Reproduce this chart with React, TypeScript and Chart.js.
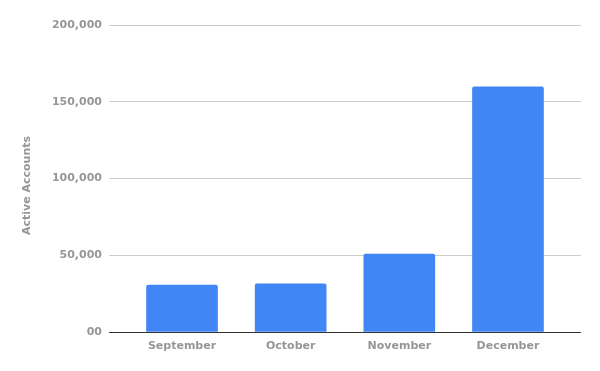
import React, { useEffect, useRef } from "react";
import { Chart, registerables } from "chart.js";

Chart.register(...registerables);

const categories = ["September", "October", "November", "December"];
const activeAccounts = [30600, 31300, 50800, 159700];
const yTicks = [0, 50000, 100000, 150000, 200000];
const yTickLabels = ["00", "50,000", "100,000", "150,000", "200,000"];
const yTitle = "Active Accounts";

export default function App() {
  const ref = useRef<HTMLCanvasElement | null>(null);

  useEffect(() => {
    if (!ref.current) return;
    const textColor = "#969696";
    const font = { family: "'DejaVu Sans', sans-serif", size: 11, weight: "bold" as const };
    const yTitlePlugin = {
      id: "yTitleCentered",
      afterDraw(c: any) {
        const ctx = c.ctx;
        ctx.save();
        ctx.translate(27, (c.height - 0) / 2);
        ctx.rotate(-Math.PI / 2);
        ctx.font = "bold 11px 'DejaVu Sans', sans-serif";
        ctx.fillStyle = textColor;
        ctx.textAlign = "center";
        ctx.textBaseline = "middle";
        ctx.fillText(yTitle, 0, 0);
        ctx.restore();
      },
    };
    const chart = new Chart(ref.current, {
      type: "bar",
      data: {
        datasets: [
          {
            label: yTitle,
            data: activeAccounts.map((v, i) => ({ x: i, y: v })),
            backgroundColor: "#4285f4",
            borderRadius: { topLeft: 2, topRight: 2, bottomLeft: 0, bottomRight: 0 },
            borderSkipped: "start",
            barThickness: 71,
          },
        ],
      },
      plugins: [yTitlePlugin],
      options: {
        animation: false,
        responsive: false,
        layout: { padding: { left: 0, top: 25, right: 19, bottom: 0 } },
        plugins: { legend: { display: false }, tooltip: { enabled: false } },
        scales: {
          x: {
            type: "linear",
            offset: false,
            min: -0.672,
            max: 3.672,
            grid: { display: false, drawTicks: false, offset: false },
            border: { display: false },
            ticks: {
              stepSize: 1,
              autoSkip: false,
              maxRotation: 0,
              padding: 8,
              color: textColor,
              font,
              callback: (v: any) => {
                const n = Number(v);
                return Number.isInteger(n) && categories[n] !== undefined ? categories[n] : "";
              },
            },
            afterFit: (s: any) => {
              s.height = 39;
              s.paddingLeft = 0;
              s.paddingRight = 0;
            },
          },
          y: {
            min: 0,
            max: 200000,
            afterBuildTicks: (s: any) => {
              s.ticks = yTicks.map((v) => ({ value: v }));
            },
            grid: {
              drawTicks: false,
              color: (ctx: any) => (ctx.tick && ctx.tick.value === 0 ? "#333333" : "#cccccc"),
              lineWidth: 1,
            },
            border: { display: false },
            ticks: {
              padding: 7,
              color: textColor,
              font,
              callback: (v: any) => {
                const i = yTicks.indexOf(Number(v));
                return i >= 0 ? yTickLabels[i] : "";
              },
            },
            title: { display: false },
            afterFit: (s: any) => {
              s.width = 109;
              s.paddingTop = 0;
              s.paddingBottom = 0;
            },
          },
        },
      },
    });
    return () => chart.destroy();
  }, []);

  return (
    <div style={{ position: "fixed", left: 0, top: 0, width: 600, height: 371, background: "#fff" }}>
      <canvas ref={ref} width={600} height={371} style={{ display: "block" }} />
    </div>
  );
}
